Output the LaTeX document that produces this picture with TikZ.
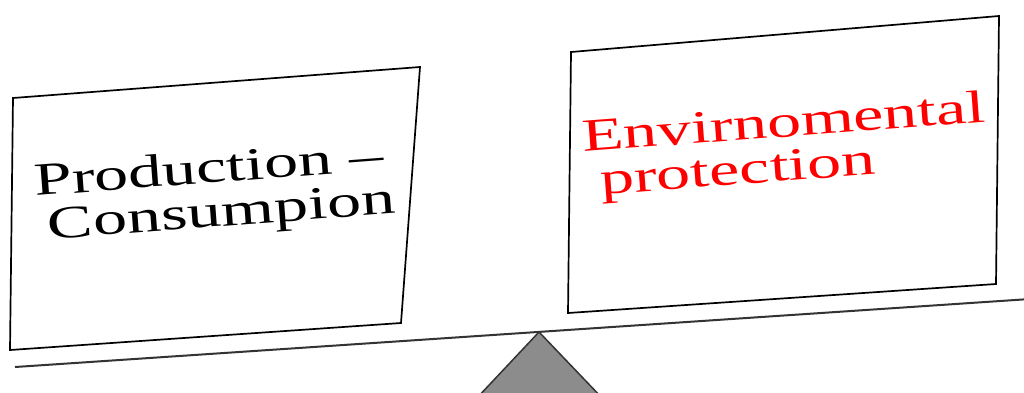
\documentclass[tikz,border=0pt]{standalone}
\usepackage{fontspec}
\setmainfont{Liberation Serif}
\usepackage{graphicx}
\begin{document}
\begin{tikzpicture}[x=1pt,y=-1pt,
  boxline/.style={draw=black, line width=1.7pt, line join=miter},
  beamline/.style={draw=black!80, line width=2pt},
  fulcrum/.style={draw=black!80, line width=1.5pt, fill=black!45, line join=miter},
  lbl/.style={inner sep=0pt, anchor=base west, rotate=4.3, xscale=1.48,
    font=\fontsize{46pt}{44pt}\selectfont}]
\useasboundingbox (0,0) rectangle (1024,392);
\clip (0,0) rectangle (1024,392);
\fill[white] (0,0) rectangle (1024,392);
% left box
\coordinate (l1) at (13,98);
\coordinate (l2) at (420,67);
\coordinate (l3) at (401,323);
\coordinate (l4) at (10,350);
\draw[boxline] (l1) -- (l2) -- (l3) -- (l4) -- cycle;
% right box
\coordinate (r1) at (571,52);
\coordinate (r2) at (999,16);
\coordinate (r3) at (996,284);
\coordinate (r4) at (568,313);
\draw[boxline] (r1) -- (r2) -- (r3) -- (r4) -- cycle;
% beam
\coordinate (b1) at (15,367);
\coordinate (b2) at (1030,299);
\draw[beamline] (b1) -- (b2);
% fulcrum
\coordinate (apex) at (539,332);
\coordinate (fl) at (475,400);
\coordinate (fr) at (604,400);
\draw[fulcrum] (apex) -- (fr) -- (fl) -- cycle;
% texts
\node[lbl, text=black] (prod) at (35,196)
  {\vtop{\hbox{Production –}\hbox{\hspace*{7pt}Consumpion}}};
\node[lbl, text=red] (env) at (583,152)
  {\vtop{\hbox{Envirnomental}\hbox{\hspace*{10pt}protection}}};
\end{tikzpicture}
\end{document}
